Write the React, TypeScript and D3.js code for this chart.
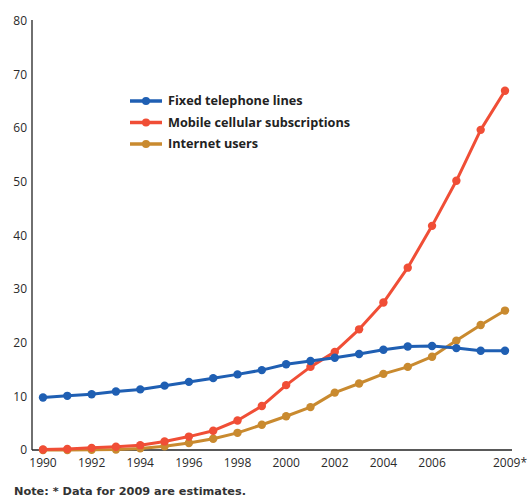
import React from "react";
import * as d3 from "d3";

const years = [1990,1991,1992,1993,1994,1995,1996,1997,1998,1999,2000,2001,2002,2003,2004,2005,2006,2007,2008,2009];
const fixedLines = [9.8,10.1,10.4,10.9,11.3,12.0,12.7,13.4,14.1,14.9,16.0,16.6,17.2,17.9,18.7,19.3,19.4,19.0,18.5,18.5];
const mobile = [0.1,0.2,0.4,0.6,0.9,1.6,2.5,3.6,5.5,8.2,12.1,15.5,18.3,22.5,27.5,34.0,41.8,50.2,59.7,67.0];
const internet = [0,0,0.05,0.1,0.3,0.7,1.3,2.1,3.2,4.7,6.3,8.0,10.7,12.4,14.2,15.5,17.4,20.4,23.3,26.0];
const xTicks = [1990,1992,1994,1996,1998,2000,2002,2004,2006,2009];
const xTickLabels = ["1990","1992","1994","1996","1998","2000","2002","2004","2006","2009*"];
const yTicks = [0,10,20,30,40,50,60,70,80];

const series = [
  { name: "Fixed telephone lines", values: fixedLines, color: "#1f5fb3" },
  { name: "Mobile cellular subscriptions", values: mobile, color: "#f04e36" },
  { name: "Internet users", values: internet, color: "#c98a2f" },
];

export default function App() {
  const W = 529, H = 501;
  const x = d3.scaleLinear().domain([1990, 2009]).range([43, 505]);
  const y = d3.scaleLinear().domain([0, 80]).range([450, 21]);
  const line = d3.line<number>().x((_, i) => x(years[i])).y(d => y(d));
  const font = "'Open Sans', sans-serif";
  return (
    <svg width={W} height={H} style={{ position: "absolute", left: 0, top: 0, background: "#fff" }}>
      <line x1={32} x2={32} y1={20} y2={450} stroke="#222" strokeWidth={1.3} />
      <line x1={32} x2={512} y1={450} y2={450} stroke="#222" strokeWidth={1.3} />
      {yTicks.map(t => (
        <text key={t} x={27} y={y(t)} dy="0.35em" textAnchor="end" fontSize={12} fontFamily={font} fill="#2a2a2a">{t}</text>
      ))}
      {xTicks.map((t, i) => (
        <text key={t} x={x(t) + (i === xTicks.length - 1 ? 5 : 0)} y={467} textAnchor="middle" fontSize={12} fontFamily={font} fill="#2a2a2a">{xTickLabels[i]}</text>
      ))}
      {series.map(s => (
        <g key={s.name}>
          <path d={line(s.values) || ""} fill="none" stroke={s.color} strokeWidth={3} strokeLinejoin="round" />
          {s.values.map((v, i) => (
            <circle key={i} cx={x(years[i])} cy={y(v)} r={4.2} fill={s.color} />
          ))}
        </g>
      )).reverse()}
      {series.map((s, i) => (
        <g key={s.name} transform={`translate(0, ${101 + i * 21.5})`}>
          <line x1={130} x2={162} y1={0} y2={0} stroke={s.color} strokeWidth={3.5} />
          <circle cx={146} cy={0} r={4} fill={s.color} />
          <text x={168} y={0} dy="0.35em" fontSize={12.7} fontWeight="bold" fontFamily={font} fill="#222">{s.name}</text>
        </g>
      ))}
      <text x={14} y={495} fontSize={11.3} fontWeight="bold" fontFamily="'DejaVu Sans', Verdana, sans-serif" fill="#333">Note: * Data for 2009 are estimates.</text>
    </svg>
  );
}
